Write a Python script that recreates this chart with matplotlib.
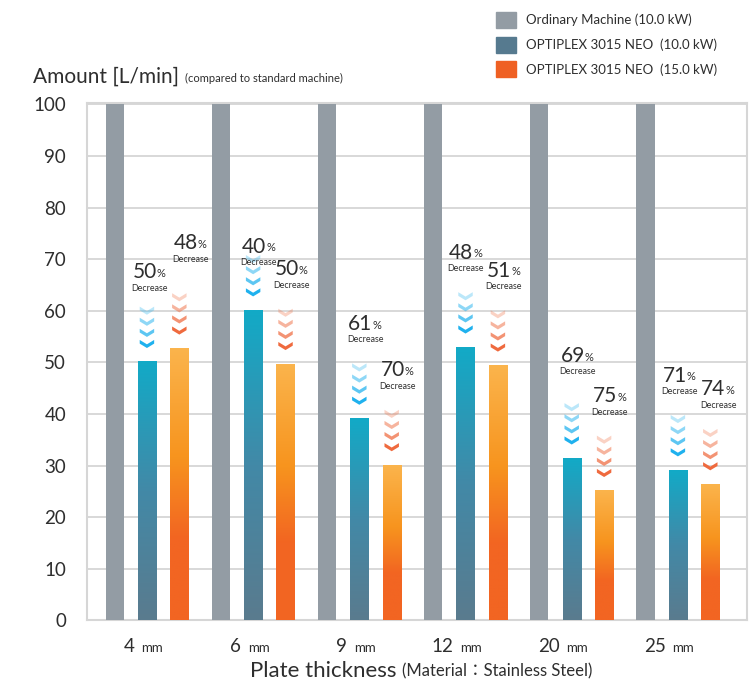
import numpy as np
import matplotlib
matplotlib.use("Agg")
import matplotlib.pyplot as plt
from matplotlib.colors import LinearSegmentedColormap
from matplotlib.patches import Patch, Polygon

# data
THICKNESS = ["4", "6", "9", "12", "20", "25"]
ORDINARY = [100, 100, 100, 100, 100, 100]
NEO_10KW = [50.0, 60.0, 39.0, 52.8, 31.3, 29.0]
NEO_15KW = [52.6, 49.6, 30.0, 49.3, 25.0, 26.3]
CUT_10KW = [50, 40, 61, 48, 69, 71]
CUT_15KW = [48, 50, 70, 51, 75, 74]
SERIES = ["Ordinary Machine (10.0 kW)",
          "OPTIPLEX 3015 NEO  (10.0 kW)",
          "OPTIPLEX 3015 NEO  (15.0 kW)"]

# styling
GRAY = "#939ca4"
BLUE_SOLID = "#567a8f"
ORANGE_SOLID = "#ef6023"
BLUE_ARROW = "#1fb1ee"
ORANGE_ARROW = "#ef6a3e"
TEXT = "#2e2e2e"
GRID = "#d6d6d6"
FONTS = ["Lato", "Noto Sans CJK JP", "DejaVu Sans"]

plt.rcParams["font.family"] = FONTS

blue_cmap = LinearSegmentedColormap.from_list(
    "blue", [(0.0, "#12aac7"), (0.5, "#4289a7"), (1.0, "#5a7b8e")])
orange_cmap = LinearSegmentedColormap.from_list(
    "orange", [(0.0, "#fbb44c"), (0.4, "#f7941e"), (0.7, "#f26522"), (1.0, "#f26522")])

W = 0.17
OFFSET = 0.305


def gradient_bars(ax, xs, heights, cmap):
    bars = ax.bar(xs, heights, W, color="none", zorder=3)
    grad = np.linspace(0, 1, 256).reshape(-1, 1)
    for b in bars:
        x0, y0 = b.get_x(), b.get_y()
        ax.imshow(grad, cmap=cmap, aspect="auto", zorder=3,
                  extent=(x0, x0 + b.get_width(), y0, y0 + b.get_height()))
    return bars


def chevrons(ax, xc, top, color):
    # four down-pointing chevrons stacked above the bar, fading upward
    dx, h, t = 0.068, 0.85, 0.72
    gap, pitch = 2.8, 2.15
    alphas = [1.0, 0.72, 0.5, 0.3]
    for k, a in enumerate(alphas):
        y = top + gap + k * pitch
        pts = [(xc - dx, y + h), (xc, y), (xc + dx, y + h),
               (xc + dx, y + h + t), (xc, y + t), (xc - dx, y + h + t)]
        ax.add_patch(Polygon(pts, closed=True, facecolor=color, alpha=a,
                             edgecolor="none", zorder=4))


def decrease_label(ax, x_left, y, pct):
    num = ax.text(x_left, y, str(pct), fontsize=15, color=TEXT,
                  ha="left", va="baseline", zorder=5)
    ax.annotate("%", xy=(1, 0), xycoords=num, xytext=(0, 2.4),
                textcoords="offset points", fontsize=8, color=TEXT,
                ha="left", va="bottom", zorder=5)
    ax.annotate("Decrease", xy=(0, 0), xycoords=num, xytext=(-1, -1),
                textcoords="offset points", fontsize=6.4, color=TEXT,
                ha="left", va="top", zorder=5)


fig = plt.figure(figsize=(7.56, 6.86), dpi=100)
ax = fig.add_axes([0.115, 0.0955, 0.873, 0.7545])

x = np.arange(len(THICKNESS))
ax.bar(x - OFFSET, ORDINARY, W, color=GRAY, zorder=3)
gradient_bars(ax, x, NEO_10KW, blue_cmap)
gradient_bars(ax, x + OFFSET, NEO_15KW, orange_cmap)

# hand placement tweaks for the "xx% Decrease" labels: (dx, dy)
LABEL_SHIFT = {(0, 0): (-0.03, -1.0), (0, 1): (0.05, 2.0),
               (1, 0): (0.0, -6.0), (3, 0): (-0.05, 0.0),
               (4, 0): (0.0, 1.5), (5, 0): (-0.04, 0.0),
               (5, 1): (0.02, 0.0)}
for i in range(len(THICKNESS)):
    for j, (xs, vals, cuts, col) in enumerate([
            (x, NEO_10KW, CUT_10KW, BLUE_ARROW),
            (x + OFFSET, NEO_15KW, CUT_15KW, ORANGE_ARROW)]):
        chevrons(ax, xs[i], vals[i], col)
        sx, sy = LABEL_SHIFT.get((i, j), (0.0, 0.0))
        decrease_label(ax, xs[i] - W / 2 - 0.02 + sx, vals[i] + 17.3 + sy, cuts[i])

ax.set_xlim(-0.565, 5.65)
ax.set_ylim(0, 100.3)
ax.set_yticks(range(0, 101, 10))
ax.set_xticks([])
ax.tick_params(axis="y", length=0, pad=15, labelsize=13.5, labelcolor=TEXT)
ax.yaxis.grid(True, color=GRID, linewidth=1.3, zorder=0)
ax.set_axisbelow(True)
for s in ax.spines.values():
    s.set_color(GRID)
    s.set_linewidth(1.5)

# category labels: big number + small unit
xt = ax.get_xaxis_transform()
for i, lab in enumerate(THICKNESS):
    split = x[i] - 0.09
    ax.annotate(lab, xy=(split, 0), xycoords=xt, xytext=(-2, -23),
                textcoords="offset points", fontsize=13.5, color=TEXT,
                ha="right", va="baseline", annotation_clip=False)
    ax.annotate("mm", xy=(split, 0), xycoords=xt, xytext=(3, -23),
                textcoords="offset points", fontsize=9.5, color=TEXT,
                ha="left", va="baseline", annotation_clip=False)

# axis titles
yt = fig.text(0.044, 0.880, "Amount [L/min]", fontsize=15, color=TEXT,
              ha="left", va="baseline")
ax.annotate("(compared to standard machine)", xy=(1, 0), xycoords=yt,
            xytext=(4, 1.5), textcoords="offset points", fontsize=8,
            color=TEXT, ha="left", va="bottom", annotation_clip=False)

xt1 = fig.text(0.524, 0.013, "Plate thickness", fontsize=16, color=TEXT,
               ha="right", va="baseline")
ax.annotate("(Material：Stainless Steel)", xy=(1, 0), xycoords=xt1,
            xytext=(4.5, 1.5), textcoords="offset points", fontsize=12,
            color=TEXT, ha="left", va="bottom", annotation_clip=False)

handles = [Patch(color=c) for c in (GRAY, BLUE_SOLID, ORANGE_SOLID)]
fig.legend(handles, SERIES, loc="upper left",
           bbox_to_anchor=(496 / 756, 1 - 12 / 686), frameon=False,
           fontsize=9.5, handlelength=1.5, handleheight=1.5,
           handletextpad=0.75, labelspacing=0.65, borderpad=0,
           borderaxespad=0, labelcolor=TEXT)

fig.savefig("out.png", dpi=100)
